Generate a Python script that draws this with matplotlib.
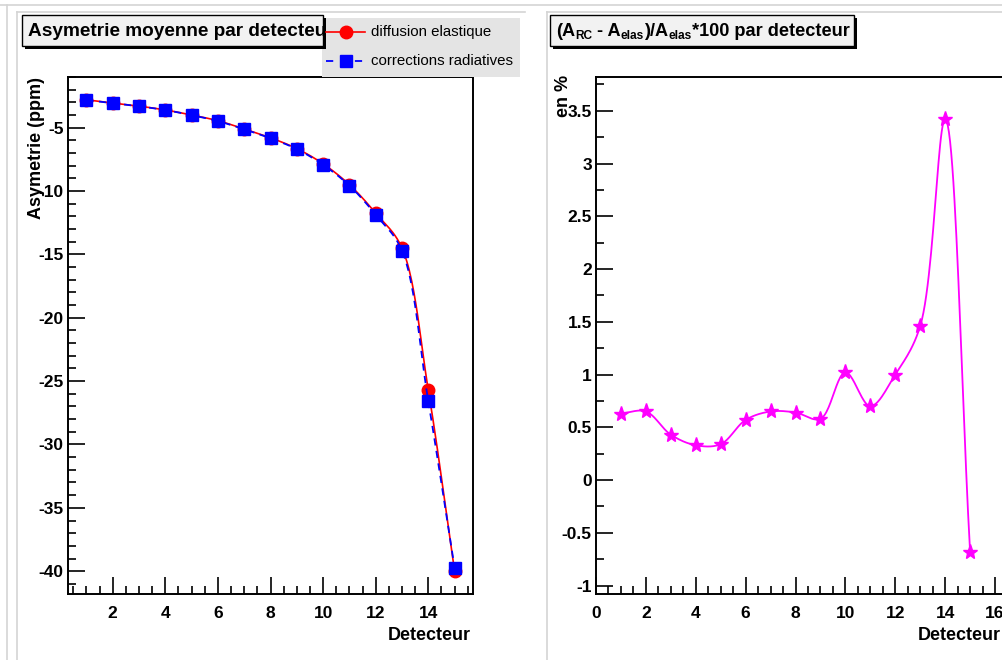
import numpy as np
import matplotlib
matplotlib.use("Agg")
from matplotlib import pyplot as plt
from matplotlib import patches as pch
from matplotlib.lines import Line2D
from matplotlib.ticker import MultipleLocator

plt.rcParams['font.family'] = ['Liberation Sans', 'DejaVu Sans']
plt.rcParams['axes.unicode_minus'] = False

# data
detecteurs = np.arange(1, 16)
asym_elas = np.array([-2.80, -3.05, -3.30, -3.60, -4.00, -4.45, -5.10, -5.80, -6.65,
                      -7.85, -9.50, -11.75, -14.50, -25.70, -40.00])
asym_rc = np.array([-2.82, -3.07, -3.31, -3.61, -4.01, -4.48, -5.13, -5.84, -6.69,
                    -7.93, -9.57, -11.87, -14.71, -26.58, -39.73])
ecart_pct = np.array([0.63, 0.65, 0.43, 0.33, 0.34, 0.57, 0.65, 0.64, 0.58,
                      1.02, 0.70, 1.00, 1.46, 3.42, -0.68])

W, H = 1003, 660
fig = plt.figure(figsize=(W / 100, H / 100), dpi=100)
renderer = fig.canvas.get_renderer()


def fx(x):
    return x / W


def fy(y):
    return 1 - y / H


def smooth(ax, xs, ys, n=25):
    # centripetal catmull-rom in pixel space, like ROOT's "C" option
    x0, x1 = ax.get_xlim()
    y0, y1 = ax.get_ylim()
    bb = ax.get_position()
    sx = bb.width * W / (x1 - x0)
    sy = bb.height * H / (y1 - y0)
    P = np.column_stack(((xs - x0) * sx, (ys - y0) * sy))
    P = np.vstack([2 * P[0] - P[1], P, 2 * P[-1] - P[-2]])
    out = []
    for i in range(1, len(P) - 2):
        p0, p1, p2, p3 = P[i - 1], P[i], P[i + 1], P[i + 2]
        t0 = 0.0
        t1 = t0 + np.linalg.norm(p1 - p0) ** 0.5 + 1e-9
        t2 = t1 + np.linalg.norm(p2 - p1) ** 0.5 + 1e-9
        t3 = t2 + np.linalg.norm(p3 - p2) ** 0.5 + 1e-9
        t = np.linspace(t1, t2, n)[:, None]
        A1 = (t1 - t) / (t1 - t0) * p0 + (t - t0) / (t1 - t0) * p1
        A2 = (t2 - t) / (t2 - t1) * p1 + (t - t1) / (t2 - t1) * p2
        A3 = (t3 - t) / (t3 - t2) * p2 + (t - t2) / (t3 - t2) * p3
        B1 = (t2 - t) / (t2 - t0) * A1 + (t - t0) / (t2 - t0) * A2
        B2 = (t3 - t) / (t3 - t1) * A2 + (t - t1) / (t3 - t1) * A3
        C = (t2 - t) / (t2 - t1) * B1 + (t - t1) / (t2 - t1) * B2
        out.append(C)
    C = np.vstack(out)
    return C[:, 0] / sx + x0, C[:, 1] / sy + y0


def style_axes(ax):
    for s in ax.spines.values():
        s.set_linewidth(1.4)
    ax.tick_params(which='both', direction='in', top=False, right=False, width=1.2)
    ax.tick_params(which='major', length=12, labelsize=12.5, pad=3)
    ax.tick_params(axis='x', which='major', pad=9)
    ax.tick_params(which='minor', length=6)
    for lab in ax.get_xticklabels() + ax.get_yticklabels():
        lab.set_fontweight('bold')


# pad borders (light grey)
grey = '#d4d4d4'
for (xa, ya, xb, yb) in [(0, 5, W, 5), (7, 5, 7, H), (17, 12, 525, 12), (17, 12, 17, H),
                         (547, 12, W, 12), (547, 12, 547, H)]:
    fig.add_artist(Line2D([fx(xa), fx(xb)], [fy(ya), fy(yb)], color=grey, lw=1.2))

# left panel
ax1 = fig.add_axes([fx(68), fy(594), fx(473 - 68), (594 - 77) / H])
ax1.set_xlim(0.3, 15.7)
ax1.set_ylim(-41.8, -1.0)
ax1.xaxis.set_major_locator(MultipleLocator(2))
ax1.xaxis.set_minor_locator(MultipleLocator(0.5))
ax1.yaxis.set_major_locator(MultipleLocator(5))
ax1.yaxis.set_minor_locator(MultipleLocator(1))
ax1.set_xticks([2, 4, 6, 8, 10, 12, 14])
style_axes(ax1)

sxr, syr = smooth(ax1, detecteurs, asym_elas)
ax1.plot(sxr, syr, color='red', lw=1.2, zorder=2)
ax1.plot(detecteurs, asym_elas, 'o', color='red', ms=9, zorder=3)
sxb, syb = smooth(ax1, detecteurs, asym_rc)
ax1.plot(sxb, syb, color='blue', lw=1.3, ls=(0, (4, 3)), zorder=4)
ax1.plot(detecteurs, asym_rc, 's', color='blue', ms=9, zorder=5)

fig.text(fx(471), fy(636), 'Detecteur', ha='right', va='center', fontsize=13, fontweight='bold')
fig.text(fx(37), fy(77), 'Asymetrie (ppm)', rotation=90, ha='center', va='top',
         fontsize=13, fontweight='bold')

# right panel
ax2 = fig.add_axes([fx(596), fy(594), 16.4 * 24.94 / W, (594 - 77) / H])
ax2.set_xlim(0, 16.4)
ax2.set_ylim(-1.08, 3.82)
ax2.xaxis.set_major_locator(MultipleLocator(2))
ax2.xaxis.set_minor_locator(MultipleLocator(0.5))
ax2.yaxis.set_major_locator(MultipleLocator(0.5))
ax2.yaxis.set_minor_locator(MultipleLocator(0.25))
ax2.set_yticks([-1, -0.5, 0, 0.5, 1, 1.5, 2, 2.5, 3, 3.5])
ax2.set_yticklabels(['-1', '-0.5', '0', '0.5', '1', '1.5', '2', '2.5', '3', '3.5'])
style_axes(ax2)

smx, smy = smooth(ax2, detecteurs, ecart_pct)
ax2.plot(smx, smy, color='#ff00ff', lw=1.3, zorder=2)
ax2.plot(detecteurs, ecart_pct, '*', color='#ff00ff', ms=11, zorder=3)

fig.text(fx(1001), fy(636), 'Detecteur', ha='right', va='center', fontsize=13, fontweight='bold')
fig.text(fx(563), fy(75), 'en %', rotation=90, ha='center', va='top',
         fontsize=13, fontweight='bold')

# legend (drawn under the left title box)
fig.add_artist(pch.Rectangle((fx(322), fy(77)), fx(520 - 322), (77 - 18) / H,
                             facecolor='#e4e4e4', edgecolor='none', transform=fig.transFigure))
fig.add_artist(Line2D([fx(326), fx(365)], [fy(32), fy(32)], color='red', lw=1.2))
fig.add_artist(Line2D([fx(346)], [fy(32)], marker='o', color='red', ms=9))
fig.add_artist(Line2D([fx(326), fx(365)], [fy(61), fy(61)], color='blue', lw=1.3, ls=(0, (4, 4))))
fig.add_artist(Line2D([fx(346)], [fy(61)], marker='s', color='blue', ms=9))
fig.text(fx(371), fy(32), 'diffusion elastique', ha='left', va='center', fontsize=10.8)
fig.text(fx(371), fy(61), 'corrections radiatives', ha='left', va='center', fontsize=10.8)


# title boxes with shadow
def title_box(x0, y0, x1, y1):
    fig.add_artist(pch.Rectangle((fx(x0 + 3), fy(y1 + 3)), fx(x1 - x0), (y1 - y0) / H,
                                 facecolor='black', edgecolor='none', transform=fig.transFigure))
    box = pch.Rectangle((fx(x0), fy(y1)), fx(x1 - x0), (y1 - y0) / H,
                        facecolor='#f2f2f2', edgecolor='black', lw=1.0,
                        transform=fig.transFigure)
    fig.add_artist(box)
    return box


box1 = title_box(22, 15, 323, 46)
t1 = fig.text(fx(28), fy(31), 'Asymetrie moyenne par detecteur', ha='left', va='center',
              fontsize=13.7, fontweight='bold')
t1.set_clip_path(box1)

box2 = title_box(550, 15, 854, 46)
pieces = [('(A', 13.1, 0), ('RC', 8.6, 5), (' - A', 13.1, 0), ('elas', 8.6, 5),
          (')/A', 13.1, 0), ('elas', 8.6, 5), ('*100 par detecteur', 13.1, 0)]
xpos = 556
for txt, size, drop in pieces:
    t = fig.text(fx(xpos), fy(31 + drop), txt, ha='left', va='center',
                 fontsize=size, fontweight='bold')
    xpos += t.get_window_extent(renderer).width

fig.savefig('out.png', dpi=100)
